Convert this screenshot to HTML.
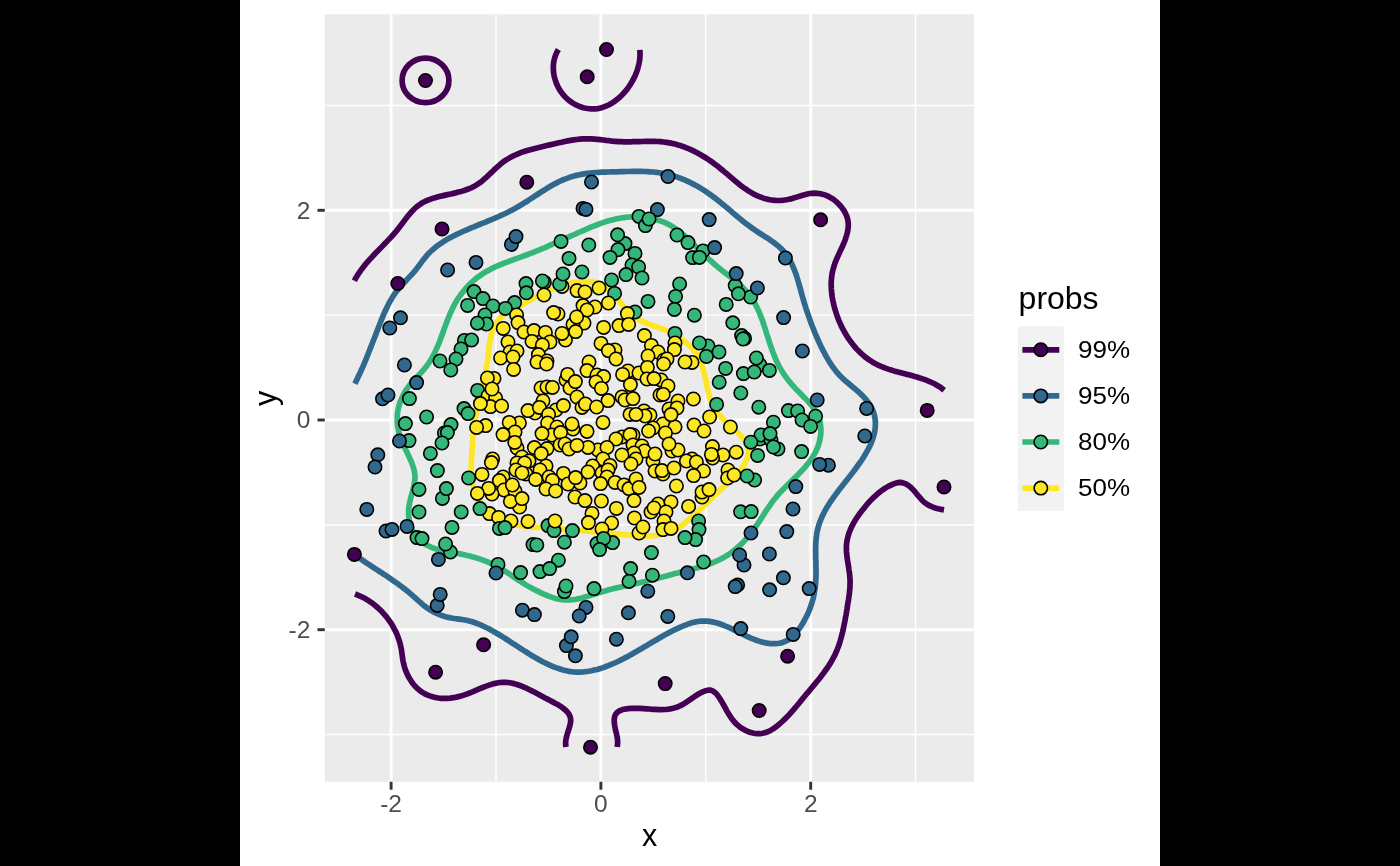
<!DOCTYPE html>
<html><head><meta charset="utf-8"><title>chart</title>
<style>
html,body{margin:0;padding:0;background:#000;}
body{width:1400px;height:866px;overflow:hidden;position:relative;}
svg{position:absolute;left:0;top:0;display:block;will-change:transform;}
text{font-family:"Liberation Sans",sans-serif;}
.at{font-size:24.5px;fill:#4D4D4D;}
.lt{font-size:24.5px;fill:#000;}
.ttl{font-size:30.5px;fill:#000;}
</style></head><body>
<svg width="1400" height="866" viewBox="0 0 1400 866">
<rect x="0" y="0" width="1400" height="866" fill="#000"/>
<rect x="240" y="0" width="920" height="866" fill="#fff"/>
<rect x="324.8" y="14.3" width="649.1" height="767.5" fill="#EBEBEB"/>
<line x1="496.0" x2="496.0" y1="14.3" y2="781.8" stroke="#fff" stroke-width="1.45"/>
<line x1="705.8" x2="705.8" y1="14.3" y2="781.8" stroke="#fff" stroke-width="1.45"/>
<line x1="915.5" x2="915.5" y1="14.3" y2="781.8" stroke="#fff" stroke-width="1.45"/>
<line y1="734.5" y2="734.5" x1="324.8" x2="973.9" stroke="#fff" stroke-width="1.45"/>
<line y1="524.9" y2="524.9" x1="324.8" x2="973.9" stroke="#fff" stroke-width="1.45"/>
<line y1="315.1" y2="315.1" x1="324.8" x2="973.9" stroke="#fff" stroke-width="1.45"/>
<line y1="105.5" y2="105.5" x1="324.8" x2="973.9" stroke="#fff" stroke-width="1.45"/>
<line x1="391.1" x2="391.1" y1="14.3" y2="781.8" stroke="#fff" stroke-width="2.9"/>
<line y1="629.7" y2="629.7" x1="324.8" x2="973.9" stroke="#fff" stroke-width="2.9"/>
<line x1="600.9" x2="600.9" y1="14.3" y2="781.8" stroke="#fff" stroke-width="2.9"/>
<line y1="420.0" y2="420.0" x1="324.8" x2="973.9" stroke="#fff" stroke-width="2.9"/>
<line x1="810.7" x2="810.7" y1="14.3" y2="781.8" stroke="#fff" stroke-width="2.9"/>
<line y1="210.3" y2="210.3" x1="324.8" x2="973.9" stroke="#fff" stroke-width="2.9"/>
<g fill="none" stroke-width="5.7" stroke-linejoin="round" stroke-linecap="butt">
<ellipse cx="425.5" cy="80.4" rx="23.4" ry="22.3" stroke="#440154"/>
<path d="M558.4 49.5 L556.9 52.2 L555.7 54.9 L554.7 57.8 L554.0 60.7 L553.5 63.7 L553.3 66.7 L553.4 69.8 L553.6 72.8 L554.1 75.9 L554.9 78.8 L555.8 81.8 L556.9 84.6 L558.3 87.4 L559.8 90.1 L561.5 92.6 L563.4 95.0 L565.4 97.2 L567.6 99.3 L570.0 101.2 L572.4 102.9 L575.0 104.4 L577.7 105.7 L580.4 106.8 L583.2 107.7 L586.1 108.3 L588.9 108.7 L591.8 108.9 L594.7 108.9 L597.6 108.6 L600.4 108.0 L603.2 107.2 L605.9 106.2 L608.6 105.0 L611.2 103.6 L613.8 101.9 L616.2 100.1 L618.6 98.2 L620.9 96.1 L623.1 93.8 L625.2 91.5 L627.2 89.1 L629.0 86.5 L630.7 83.9 L632.3 81.2 L633.8 78.5 L635.1 75.7 L636.3 72.9 L637.3 70.1 L638.1 67.2 L638.8 64.3 L639.4 61.5 L639.8 58.6 L640.0 55.7 L640.0 52.8 L639.9 49.9" stroke="#440154"/>
<path d="M354.4 280.7 L355.8 278.0 L357.4 275.4 L359.1 272.8 L360.8 270.4 L362.6 268.0 L364.4 265.6 L366.3 263.3 L368.2 261.1 L370.2 258.9 L372.3 256.7 L374.3 254.5 L376.4 252.3 L378.5 250.2 L380.6 248.1 L382.7 245.9 L384.7 243.8 L386.8 241.6 L388.9 239.4 L391.0 237.2 L393.0 235.0 L395.0 232.7 L396.9 230.4 L398.8 228.0 L400.7 225.6 L402.5 223.1 L404.3 220.7 L406.2 218.3 L408.0 215.9 L410.0 213.6 L411.9 211.4 L414.0 209.3 L416.1 207.3 L418.4 205.5 L420.8 203.8 L423.3 202.3 L425.9 201.0 L428.6 199.9 L431.5 198.8 L434.4 197.9 L437.3 197.1 L440.3 196.3 L443.3 195.6 L446.3 194.9 L449.4 194.2 L452.4 193.6 L455.4 192.9 L458.3 192.1 L461.2 191.4 L464.1 190.5 L466.9 189.5 L469.6 188.5 L472.3 187.3 L474.9 185.9 L477.4 184.4 L479.9 182.7 L482.2 180.9 L484.5 178.9 L486.8 176.9 L489.0 174.8 L491.3 172.6 L493.5 170.5 L495.7 168.3 L498.0 166.3 L500.3 164.3 L502.6 162.4 L505.0 160.7 L507.5 159.1 L510.1 157.6 L512.7 156.2 L515.3 155.0 L518.0 153.8 L520.8 152.7 L523.5 151.7 L526.4 150.8 L529.2 150.0 L532.1 149.2 L535.0 148.4 L537.9 147.7 L540.9 147.0 L543.9 146.3 L546.8 145.6 L549.8 144.9 L552.8 144.2 L555.8 143.5 L558.8 142.8 L561.7 142.2 L564.7 141.5 L567.7 140.9 L570.7 140.4 L573.6 139.9 L576.6 139.5 L579.6 139.2 L582.6 138.9 L585.5 138.8 L588.5 138.8 L591.4 138.9 L594.4 139.1 L597.3 139.3 L600.2 139.6 L603.2 140.0 L606.1 140.4 L609.1 140.7 L612.1 141.1 L615.1 141.3 L618.1 141.6 L621.1 141.7 L624.1 141.8 L627.2 141.8 L630.2 141.8 L633.3 141.7 L636.3 141.6 L639.4 141.6 L642.5 141.5 L645.5 141.4 L648.5 141.4 L651.6 141.4 L654.6 141.4 L657.6 141.5 L660.6 141.7 L663.5 142.0 L666.5 142.4 L669.4 142.9 L672.3 143.4 L675.2 144.1 L678.0 144.9 L680.8 145.8 L683.6 146.7 L686.3 147.8 L689.1 148.9 L691.8 150.1 L694.5 151.4 L697.1 152.8 L699.7 154.2 L702.3 155.7 L704.9 157.3 L707.4 158.9 L710.0 160.6 L712.5 162.4 L714.9 164.2 L717.4 166.1 L719.8 168.0 L722.2 170.0 L724.5 171.9 L726.9 173.9 L729.2 175.9 L731.6 177.9 L733.9 179.9 L736.3 181.9 L738.6 183.8 L741.0 185.7 L743.4 187.5 L745.9 189.2 L748.4 190.9 L750.9 192.4 L753.4 193.9 L756.0 195.2 L758.7 196.4 L761.4 197.4 L764.2 198.4 L767.0 199.1 L769.9 199.7 L772.8 200.1 L775.7 200.4 L778.7 200.5 L781.7 200.3 L784.7 200.0 L787.7 199.5 L790.7 198.9 L793.7 198.0 L796.6 197.1 L799.6 196.2 L802.6 195.3 L805.6 194.5 L808.5 193.8 L811.5 193.3 L814.5 193.2 L817.4 193.3 L820.4 193.7 L823.3 194.4 L826.1 195.4 L828.9 196.7 L831.6 198.2 L834.1 199.9 L836.5 201.9 L838.7 204.0 L840.8 206.2 L842.6 208.6 L844.3 211.1 L845.6 213.7 L846.8 216.4 L847.6 219.1 L848.1 221.9 L848.3 224.7 L848.2 227.5 L847.8 230.4 L847.2 233.2 L846.4 236.0 L845.5 238.9 L844.4 241.8 L843.2 244.6 L841.9 247.5 L840.5 250.4 L839.2 253.3 L837.9 256.2 L836.6 259.1 L835.4 262.0 L834.4 264.9 L833.5 267.9 L832.7 270.8 L832.1 273.7 L831.7 276.6 L831.4 279.5 L831.2 282.4 L831.2 285.3 L831.3 288.2 L831.5 291.1 L831.8 294.0 L832.2 296.9 L832.7 299.8 L833.4 302.8 L834.0 305.7 L834.8 308.6 L835.7 311.5 L836.6 314.4 L837.6 317.2 L838.7 320.1 L839.9 322.9 L841.2 325.7 L842.5 328.4 L844.0 331.1 L845.5 333.8 L847.1 336.4 L848.7 338.9 L850.5 341.4 L852.3 343.8 L854.2 346.1 L856.1 348.4 L858.2 350.6 L860.3 352.7 L862.5 354.7 L864.7 356.6 L867.1 358.4 L869.5 360.1 L872.0 361.7 L874.5 363.2 L877.1 364.6 L879.8 365.8 L882.6 367.0 L885.4 368.1 L888.2 369.1 L891.1 370.0 L894.0 370.9 L896.9 371.7 L899.9 372.5 L902.8 373.3 L905.8 374.1 L908.8 374.8 L911.7 375.6 L914.7 376.4 L917.6 377.3 L920.5 378.2 L923.4 379.1 L926.2 380.2 L929.0 381.3 L931.7 382.5 L934.4 383.8 L936.9 385.2 L939.5 386.7 L941.9 388.4 L944.2 390.2" stroke="#440154"/>
<path d="M944.0 509.9 L941.1 509.4 L938.1 508.8 L935.2 508.0 L932.3 506.9 L929.6 505.7 L927.0 504.2 L924.5 502.5 L922.3 500.5 L920.3 498.2 L918.3 495.9 L916.4 493.5 L914.4 491.2 L912.3 488.9 L910.1 486.8 L907.7 485.0 L905.1 483.6 L902.3 482.7 L899.5 482.4 L896.6 482.9 L893.8 483.9 L891.0 485.1 L888.3 486.4 L885.7 487.9 L883.2 489.5 L880.8 491.3 L878.4 493.1 L876.2 495.1 L874.0 497.1 L871.8 499.2 L869.7 501.4 L867.7 503.7 L865.7 506.0 L863.8 508.4 L861.9 510.8 L860.0 513.3 L858.2 515.7 L856.5 518.3 L854.9 520.8 L853.4 523.4 L852.0 526.1 L850.7 528.8 L849.6 531.5 L848.6 534.3 L847.8 537.1 L847.2 539.9 L846.7 542.8 L846.4 545.8 L846.4 548.7 L846.5 551.7 L846.8 554.8 L847.1 557.8 L847.6 560.9 L848.1 564.0 L848.6 567.1 L849.0 570.1 L849.5 573.2 L849.8 576.2 L850.0 579.2 L850.1 582.2 L850.0 585.1 L849.9 588.1 L849.6 591.0 L849.3 593.9 L848.9 596.8 L848.5 599.7 L848.0 602.6 L847.5 605.5 L847.1 608.5 L846.6 611.5 L846.1 614.5 L845.5 617.5 L845.0 620.5 L844.4 623.5 L843.8 626.5 L843.2 629.5 L842.5 632.5 L841.7 635.5 L840.9 638.4 L840.1 641.3 L839.2 644.2 L838.2 647.0 L837.1 649.8 L835.9 652.6 L834.7 655.3 L833.3 657.9 L831.9 660.5 L830.4 663.1 L828.8 665.6 L827.1 668.1 L825.4 670.5 L823.7 672.9 L821.9 675.3 L820.1 677.7 L818.2 680.0 L816.3 682.3 L814.4 684.6 L812.4 687.0 L810.5 689.3 L808.6 691.6 L806.6 693.9 L804.7 696.2 L802.8 698.6 L800.9 700.9 L799.0 703.2 L797.1 705.5 L795.1 707.8 L793.2 710.1 L791.2 712.4 L789.2 714.6 L787.1 716.8 L785.0 718.9 L782.8 721.0 L780.6 723.0 L778.3 725.0 L775.9 726.9 L773.5 728.6 L771.0 730.2 L768.3 731.5 L765.6 732.6 L762.8 733.3 L759.9 733.7 L756.9 733.6 L753.9 733.2 L750.8 732.5 L747.8 731.5 L744.9 730.1 L742.2 728.6 L739.6 726.8 L737.3 724.9 L735.2 722.9 L733.3 720.7 L731.5 718.3 L729.9 715.9 L728.3 713.4 L726.8 710.8 L725.4 708.2 L723.9 705.5 L722.4 702.8 L720.8 700.1 L719.1 697.5 L717.3 694.9 L715.3 692.7 L713.1 691.1 L710.7 690.2 L708.1 690.2 L705.3 690.8 L702.6 691.9 L699.9 693.2 L697.2 694.8 L694.6 696.5 L692.0 698.3 L689.3 700.2 L686.7 702.0 L684.0 703.7 L681.4 705.2 L678.6 706.5 L675.9 707.6 L673.1 708.3 L670.3 708.9 L667.4 709.3 L664.5 709.5 L661.6 709.6 L658.6 709.6 L655.7 709.4 L652.7 709.3 L649.6 709.0 L646.6 708.8 L643.5 708.6 L640.4 708.4 L637.3 708.3 L634.2 708.3 L631.1 708.4 L628.0 708.7 L624.9 709.1 L622.0 709.8 L619.4 710.9 L617.2 712.4 L615.6 714.3 L614.6 716.8 L614.2 719.7 L614.3 722.9 L614.8 726.2 L615.4 729.4 L616.1 732.4 L616.8 735.3 L617.3 738.0 L617.6 740.9 L617.6 743.8 L617.2 747.0" stroke="#440154"/>
<path d="M566.0 747.0 L565.6 744.0 L565.7 741.1 L566.2 738.1 L567.0 735.0 L567.9 732.0 L568.9 729.0 L569.8 725.9 L570.5 722.9 L570.7 720.0 L570.3 717.2 L569.3 714.7 L567.6 712.3 L565.6 710.2 L563.2 708.2 L560.7 706.4 L558.2 704.8 L555.6 703.4 L553.1 702.1 L550.5 700.7 L547.9 699.4 L545.2 698.0 L542.5 696.5 L539.7 695.0 L537.0 693.5 L534.2 692.0 L531.3 690.6 L528.5 689.2 L525.6 687.8 L522.8 686.6 L519.9 685.5 L517.0 684.5 L514.1 683.6 L511.2 683.0 L508.3 682.5 L505.4 682.3 L502.6 682.3 L499.7 682.5 L496.9 683.0 L494.0 683.6 L491.2 684.4 L488.4 685.4 L485.5 686.4 L482.7 687.5 L479.8 688.7 L477.0 689.9 L474.1 691.2 L471.2 692.4 L468.3 693.5 L465.3 694.6 L462.4 695.6 L459.4 696.4 L456.4 697.1 L453.4 697.7 L450.3 698.1 L447.3 698.3 L444.3 698.4 L441.3 698.3 L438.3 698.0 L435.4 697.5 L432.6 696.8 L429.8 695.9 L427.1 694.9 L424.5 693.6 L422.0 692.1 L419.6 690.4 L417.3 688.4 L415.2 686.3 L413.2 684.0 L411.4 681.5 L409.7 678.8 L408.1 676.0 L406.8 673.2 L405.6 670.3 L404.6 667.3 L403.8 664.3 L403.1 661.3 L402.6 658.3 L402.2 655.4 L401.8 652.4 L401.4 649.5 L400.8 646.6 L400.1 643.7 L399.3 640.8 L398.3 638.0 L397.3 635.2 L396.1 632.4 L394.7 629.7 L393.3 627.0 L391.8 624.4 L390.1 621.8 L388.3 619.3 L386.5 616.9 L384.5 614.6 L382.5 612.3 L380.3 610.1 L378.1 608.0 L375.8 606.0 L373.5 604.1 L371.0 602.3 L368.5 600.6 L365.9 599.0 L363.3 597.6 L360.6 596.3 L357.8 595.1 L355.0 594.0" stroke="#440154"/>
<path d="M354.9 383.7 L356.2 381.0 L357.5 378.3 L358.8 375.6 L360.1 372.9 L361.3 370.1 L362.6 367.4 L363.8 364.6 L364.9 361.9 L366.1 359.1 L367.2 356.3 L368.3 353.5 L369.4 350.7 L370.5 347.9 L371.6 345.1 L372.7 342.3 L373.8 339.5 L374.9 336.7 L376.0 333.9 L377.0 331.1 L378.1 328.3 L379.2 325.5 L380.3 322.7 L381.4 319.9 L382.6 317.1 L383.7 314.3 L384.9 311.6 L386.2 308.9 L387.5 306.2 L388.8 303.5 L390.3 300.9 L391.8 298.4 L393.3 295.9 L395.0 293.4 L396.8 291.0 L398.6 288.7 L400.6 286.4 L402.6 284.2 L404.7 282.0 L406.7 279.8 L408.8 277.6 L410.9 275.4 L413.0 273.1 L415.0 270.8 L416.9 268.4 L418.7 266.0 L420.5 263.6 L422.3 261.1 L424.2 258.7 L426.0 256.4 L428.0 254.1 L430.1 252.0 L432.3 250.0 L434.5 248.1 L436.8 246.2 L439.2 244.5 L441.7 242.8 L444.2 241.2 L446.7 239.6 L449.3 238.1 L452.0 236.7 L454.7 235.4 L457.4 234.0 L460.1 232.8 L462.8 231.5 L465.6 230.3 L468.4 229.1 L471.1 227.9 L473.9 226.8 L476.7 225.6 L479.4 224.5 L482.2 223.4 L485.0 222.3 L487.7 221.1 L490.5 220.0 L493.3 218.8 L496.0 217.7 L498.7 216.5 L501.5 215.2 L504.2 214.0 L506.9 212.7 L509.6 211.3 L512.2 210.0 L514.9 208.5 L517.5 207.0 L520.1 205.5 L522.7 203.9 L525.3 202.3 L527.9 200.7 L530.4 199.0 L533.0 197.3 L535.5 195.7 L538.1 194.0 L540.6 192.3 L543.2 190.7 L545.8 189.1 L548.3 187.5 L550.9 186.0 L553.5 184.5 L556.2 183.1 L558.8 181.8 L561.5 180.5 L564.2 179.4 L567.0 178.3 L569.7 177.3 L572.6 176.4 L575.4 175.6 L578.3 175.0 L581.2 174.4 L584.1 173.9 L587.1 173.4 L590.1 173.1 L593.1 172.8 L596.1 172.5 L599.1 172.3 L602.1 172.2 L605.2 172.1 L608.2 172.0 L611.3 171.9 L614.3 171.8 L617.4 171.8 L620.4 171.7 L623.5 171.6 L626.5 171.5 L629.5 171.5 L632.5 171.4 L635.5 171.4 L638.5 171.4 L641.5 171.4 L644.5 171.5 L647.4 171.6 L650.4 171.8 L653.3 172.0 L656.3 172.3 L659.2 172.7 L662.1 173.2 L665.0 173.7 L667.9 174.4 L670.8 175.1 L673.7 176.0 L676.6 176.9 L679.4 177.9 L682.3 179.0 L685.1 180.2 L687.8 181.4 L690.6 182.7 L693.3 184.1 L696.0 185.5 L698.7 187.0 L701.3 188.6 L703.8 190.2 L706.4 191.9 L708.9 193.6 L711.3 195.3 L713.7 197.1 L716.1 198.9 L718.4 200.7 L720.7 202.6 L723.0 204.5 L725.3 206.4 L727.6 208.3 L729.8 210.2 L732.1 212.2 L734.4 214.1 L736.6 216.0 L738.9 217.9 L741.2 219.8 L743.6 221.7 L745.9 223.5 L748.3 225.3 L750.8 227.1 L753.2 228.9 L755.8 230.6 L758.3 232.3 L760.9 234.0 L763.5 235.6 L766.1 237.3 L768.7 238.9 L771.2 240.7 L773.6 242.4 L776.0 244.2 L778.3 246.1 L780.5 248.1 L782.6 250.1 L784.5 252.3 L786.3 254.6 L787.9 257.0 L789.4 259.4 L790.8 262.0 L792.1 264.6 L793.3 267.4 L794.4 270.1 L795.5 273.0 L796.5 275.8 L797.4 278.8 L798.3 281.7 L799.1 284.7 L800.0 287.6 L800.8 290.6 L801.6 293.6 L802.4 296.5 L803.3 299.4 L804.1 302.4 L805.0 305.2 L805.9 308.1 L806.9 311.0 L807.8 313.8 L808.8 316.6 L809.8 319.4 L810.8 322.2 L811.8 325.0 L812.9 327.8 L814.0 330.5 L815.1 333.3 L816.3 336.0 L817.5 338.8 L818.7 341.5 L820.0 344.2 L821.3 346.9 L822.6 349.6 L824.0 352.3 L825.4 355.0 L826.9 357.6 L828.4 360.2 L830.0 362.8 L831.6 365.3 L833.4 367.7 L835.2 370.1 L837.0 372.4 L839.0 374.7 L841.0 376.8 L843.2 378.9 L845.4 380.9 L847.7 382.8 L850.0 384.7 L852.4 386.7 L854.7 388.6 L857.0 390.6 L859.3 392.7 L861.6 394.8 L863.7 397.0 L865.8 399.3 L867.7 401.7 L869.4 404.2 L871.0 406.7 L872.3 409.3 L873.4 412.1 L874.3 414.9 L874.9 417.8 L875.3 420.7 L875.4 423.7 L875.3 426.6 L875.0 429.6 L874.5 432.4 L873.8 435.3 L873.0 438.1 L872.0 440.9 L870.9 443.7 L869.6 446.4 L868.3 449.1 L866.8 451.7 L865.3 454.3 L863.7 456.9 L862.1 459.5 L860.4 462.0 L858.6 464.5 L856.8 467.0 L855.0 469.5 L853.2 471.9 L851.3 474.4 L849.4 476.8 L847.5 479.2 L845.6 481.6 L843.7 484.0 L841.8 486.4 L839.9 488.8 L838.0 491.3 L836.2 493.7 L834.4 496.1 L832.7 498.6 L831.0 501.0 L829.3 503.5 L827.8 506.0 L826.2 508.6 L824.8 511.1 L823.5 513.7 L822.2 516.3 L821.1 519.0 L820.0 521.7 L819.0 524.4 L818.2 527.2 L817.5 530.0 L816.9 532.9 L816.5 535.8 L816.1 538.7 L815.9 541.7 L815.7 544.7 L815.7 547.8 L815.6 550.9 L815.7 554.0 L815.7 557.1 L815.8 560.2 L815.9 563.3 L815.9 566.4 L816.0 569.5 L816.0 572.5 L816.0 575.6 L815.9 578.6 L815.7 581.6 L815.5 584.6 L815.2 587.5 L814.7 590.4 L814.2 593.3 L813.7 596.2 L813.0 599.0 L812.2 601.8 L811.3 604.6 L810.4 607.4 L809.3 610.1 L808.2 612.9 L806.9 615.6 L805.5 618.3 L804.1 621.0 L802.5 623.7 L800.9 626.3 L799.1 628.9 L797.2 631.4 L795.2 633.8 L793.1 636.0 L790.8 637.9 L788.4 639.7 L785.9 641.1 L783.3 642.2 L780.6 643.0 L777.7 643.5 L774.8 643.7 L771.8 643.7 L768.8 643.4 L765.8 642.9 L762.8 642.2 L759.9 641.4 L757.0 640.5 L754.2 639.4 L751.4 638.3 L748.7 637.1 L745.9 635.8 L743.2 634.5 L740.5 633.1 L737.7 631.7 L734.9 630.4 L732.1 629.0 L729.3 627.7 L726.5 626.5 L723.7 625.3 L720.8 624.3 L718.0 623.3 L715.1 622.5 L712.2 621.9 L709.3 621.4 L706.4 621.1 L703.5 621.0 L700.6 621.2 L697.7 621.5 L694.8 622.1 L691.9 622.8 L689.0 623.7 L686.1 624.8 L683.3 625.9 L680.4 627.1 L677.7 628.4 L674.9 629.7 L672.2 631.0 L669.5 632.4 L666.9 633.8 L664.2 635.3 L661.6 636.7 L659.0 638.2 L656.5 639.7 L653.9 641.2 L651.3 642.7 L648.8 644.2 L646.3 645.8 L643.7 647.3 L641.2 648.8 L638.6 650.3 L636.0 651.8 L633.4 653.3 L630.8 654.8 L628.2 656.2 L625.5 657.6 L622.8 659.0 L620.1 660.4 L617.4 661.7 L614.6 663.0 L611.8 664.2 L608.9 665.4 L606.0 666.5 L603.2 667.6 L600.3 668.5 L597.3 669.4 L594.4 670.1 L591.5 670.8 L588.5 671.3 L585.6 671.7 L582.6 672.0 L579.7 672.1 L576.7 672.1 L573.8 671.9 L570.9 671.6 L568.0 671.1 L565.1 670.4 L562.2 669.7 L559.4 668.8 L556.6 667.9 L553.7 666.8 L550.9 665.6 L548.2 664.4 L545.4 663.0 L542.7 661.7 L540.0 660.2 L537.4 658.7 L534.7 657.2 L532.1 655.7 L529.5 654.1 L527.0 652.5 L524.4 650.9 L521.9 649.3 L519.4 647.7 L516.9 646.0 L514.3 644.4 L511.8 642.8 L509.3 641.1 L506.8 639.5 L504.3 637.9 L501.8 636.3 L499.2 634.8 L496.6 633.2 L494.0 631.7 L491.4 630.3 L488.8 628.8 L486.1 627.5 L483.4 626.2 L480.6 624.9 L477.9 623.8 L475.0 622.8 L472.2 621.8 L469.3 621.0 L466.4 620.3 L463.4 619.8 L460.4 619.3 L457.4 618.9 L454.4 618.5 L451.4 618.0 L448.4 617.4 L445.6 616.7 L442.7 615.8 L440.0 614.8 L437.3 613.7 L434.6 612.4 L432.0 611.0 L429.5 609.5 L427.0 607.8 L424.6 606.1 L422.3 604.2 L420.0 602.2 L417.7 600.2 L415.5 598.1 L413.2 596.1 L410.9 594.1 L408.6 592.1 L406.3 590.2 L403.9 588.4 L401.5 586.5 L399.1 584.8 L396.7 583.0 L394.2 581.3 L391.7 579.6 L389.3 577.9 L386.8 576.2 L384.3 574.6 L381.8 572.9 L379.2 571.3 L376.7 569.7 L374.2 568.0 L371.7 566.4 L369.2 564.7 L366.7 563.1 L364.2 561.4 L361.7 559.7 L359.2 558.0 L356.8 556.2 L354.4 554.4" stroke="#31688E"/>
<path d="M426.5 366.2 L428.3 363.8 L429.9 361.3 L431.5 358.8 L432.9 356.2 L434.3 353.6 L435.6 350.9 L436.8 348.1 L438.0 345.4 L439.2 342.6 L440.3 339.8 L441.3 336.9 L442.4 334.1 L443.4 331.2 L444.4 328.3 L445.5 325.5 L446.5 322.6 L447.6 319.8 L448.7 317.0 L449.9 314.2 L451.1 311.4 L452.4 308.7 L453.7 306.0 L455.1 303.4 L456.6 300.8 L458.2 298.3 L459.9 295.9 L461.6 293.5 L463.5 291.2 L465.4 288.9 L467.3 286.7 L469.4 284.6 L471.5 282.5 L473.7 280.5 L476.0 278.6 L478.3 276.8 L480.7 275.1 L483.2 273.4 L485.7 271.8 L488.3 270.4 L491.0 268.9 L493.7 267.6 L496.4 266.3 L499.2 265.1 L502.0 264.0 L504.8 262.9 L507.7 261.8 L510.5 260.7 L513.4 259.7 L516.3 258.6 L519.2 257.6 L522.0 256.6 L524.9 255.5 L527.7 254.5 L530.5 253.4 L533.3 252.3 L536.1 251.2 L538.9 250.1 L541.6 248.9 L544.4 247.8 L547.1 246.6 L549.8 245.4 L552.6 244.2 L555.3 243.0 L558.0 241.8 L560.7 240.6 L563.5 239.4 L566.2 238.2 L568.9 236.9 L571.6 235.7 L574.4 234.5 L577.1 233.2 L579.9 232.0 L582.6 230.8 L585.4 229.6 L588.2 228.4 L590.9 227.2 L593.7 226.1 L596.6 225.0 L599.4 223.9 L602.2 222.9 L605.1 221.9 L608.0 221.0 L610.8 220.2 L613.8 219.5 L616.7 218.8 L619.6 218.2 L622.6 217.7 L625.6 217.3 L628.5 217.0 L631.6 216.9 L634.6 216.8 L637.6 216.8 L640.6 216.9 L643.6 217.2 L646.6 217.6 L649.5 218.0 L652.5 218.6 L655.4 219.3 L658.2 220.2 L661.0 221.1 L663.8 222.2 L666.5 223.4 L669.2 224.7 L671.8 226.2 L674.3 227.8 L676.8 229.5 L679.2 231.3 L681.5 233.2 L683.8 235.1 L686.1 237.1 L688.4 239.2 L690.6 241.3 L692.8 243.4 L694.9 245.6 L697.1 247.7 L699.3 249.8 L701.4 251.9 L703.5 254.0 L705.7 256.1 L707.9 258.2 L710.0 260.2 L712.2 262.2 L714.4 264.2 L716.7 266.1 L719.0 268.0 L721.3 269.9 L723.6 271.8 L726.0 273.6 L728.4 275.5 L730.8 277.3 L733.2 279.2 L735.6 281.1 L737.8 283.0 L740.1 285.0 L742.2 287.1 L744.3 289.2 L746.3 291.4 L748.2 293.7 L750.1 296.0 L751.8 298.4 L753.4 300.9 L754.9 303.4 L756.3 306.1 L757.6 308.7 L758.9 311.5 L760.0 314.3 L761.1 317.1 L762.2 319.9 L763.2 322.8 L764.1 325.7 L765.1 328.6 L766.0 331.5 L766.9 334.4 L767.9 337.3 L768.8 340.2 L769.7 343.1 L770.7 346.0 L771.7 348.8 L772.7 351.7 L773.8 354.5 L774.9 357.2 L776.0 360.0 L777.3 362.7 L778.6 365.3 L780.0 367.9 L781.5 370.4 L783.0 372.9 L784.7 375.3 L786.4 377.7 L788.2 380.1 L790.1 382.4 L792.0 384.7 L794.0 386.9 L796.1 389.2 L798.2 391.3 L800.4 393.5 L802.5 395.7 L804.7 397.9 L806.8 400.1 L808.9 402.3 L810.9 404.6 L812.7 406.9 L814.4 409.3 L816.0 411.8 L817.4 414.4 L818.6 417.0 L819.5 419.8 L820.2 422.7 L820.6 425.7 L820.9 428.7 L820.9 431.8 L820.7 434.8 L820.2 437.9 L819.6 440.9 L818.8 443.8 L817.9 446.7 L816.7 449.4 L815.5 452.1 L814.0 454.7 L812.5 457.3 L810.8 459.8 L809.1 462.2 L807.2 464.5 L805.3 466.8 L803.3 469.1 L801.2 471.3 L799.1 473.5 L797.0 475.7 L794.8 477.8 L792.7 479.9 L790.5 482.0 L788.3 484.1 L786.2 486.2 L784.1 488.4 L782.0 490.5 L779.9 492.7 L777.9 494.9 L776.0 497.2 L774.1 499.5 L772.3 501.9 L770.6 504.3 L768.9 506.8 L767.2 509.2 L765.5 511.8 L763.9 514.3 L762.3 516.8 L760.6 519.3 L759.0 521.9 L757.3 524.4 L755.6 526.9 L753.9 529.3 L752.1 531.7 L750.3 534.1 L748.4 536.4 L746.4 538.7 L744.4 540.9 L742.3 543.1 L740.1 545.2 L737.9 547.2 L735.7 549.1 L733.3 551.0 L731.0 552.8 L728.5 554.5 L726.0 556.1 L723.5 557.6 L720.8 559.0 L718.2 560.3 L715.5 561.5 L712.7 562.7 L709.9 563.7 L707.1 564.7 L704.2 565.7 L701.3 566.6 L698.4 567.4 L695.4 568.3 L692.5 569.1 L689.6 569.8 L686.6 570.6 L683.7 571.3 L680.7 572.1 L677.8 572.9 L674.9 573.6 L672.0 574.4 L669.1 575.2 L666.2 576.0 L663.3 576.8 L660.4 577.5 L657.6 578.3 L654.7 579.0 L651.8 579.8 L648.9 580.5 L646.0 581.2 L643.1 581.9 L640.2 582.6 L637.3 583.2 L634.4 583.9 L631.5 584.5 L628.5 585.2 L625.6 585.8 L622.7 586.5 L619.8 587.2 L616.8 587.9 L613.9 588.6 L611.0 589.3 L608.1 590.1 L605.2 590.9 L602.2 591.7 L599.3 592.6 L596.4 593.5 L593.5 594.5 L590.7 595.4 L587.8 596.3 L584.9 597.1 L582.0 597.9 L579.1 598.6 L576.2 599.2 L573.3 599.6 L570.4 599.9 L567.5 600.0 L564.6 599.9 L561.7 599.6 L558.8 599.1 L555.8 598.5 L552.9 597.6 L550.1 596.6 L547.2 595.5 L544.3 594.3 L541.5 593.1 L538.8 591.7 L536.0 590.4 L533.3 589.0 L530.7 587.6 L528.1 586.1 L525.5 584.6 L522.9 583.0 L520.4 581.4 L517.9 579.8 L515.4 578.1 L512.9 576.4 L510.4 574.7 L507.9 573.0 L505.4 571.4 L502.8 569.8 L500.3 568.3 L497.7 566.8 L495.0 565.4 L492.4 564.1 L489.7 562.9 L487.0 561.7 L484.2 560.6 L481.4 559.6 L478.6 558.6 L475.8 557.7 L472.9 556.9 L470.0 556.1 L467.1 555.4 L464.2 554.7 L461.2 554.1 L458.3 553.5 L455.3 553.0 L452.2 552.5 L449.2 552.0 L446.2 551.4 L443.2 550.8 L440.3 550.1 L437.3 549.3 L434.4 548.4 L431.5 547.3 L428.7 546.0 L425.9 544.6 L423.3 542.9 L420.9 541.1 L418.8 539.2 L416.8 537.0 L415.1 534.7 L413.5 532.3 L412.2 529.7 L411.1 527.1 L410.2 524.3 L409.5 521.5 L409.0 518.6 L408.7 515.6 L408.6 512.6 L408.7 509.6 L409.0 506.5 L409.5 503.5 L410.1 500.5 L410.9 497.4 L411.7 494.4 L412.5 491.4 L413.3 488.5 L414.0 485.5 L414.5 482.6 L414.9 479.7 L415.0 476.8 L414.7 474.0 L414.3 471.1 L413.6 468.3 L412.7 465.5 L411.7 462.7 L410.5 460.0 L409.3 457.2 L408.0 454.4 L406.6 451.6 L405.2 448.8 L403.9 446.0 L402.6 443.2 L401.5 440.3 L400.4 437.5 L399.5 434.6 L398.7 431.7 L398.1 428.7 L397.6 425.8 L397.3 422.8 L397.2 419.9 L397.2 416.9 L397.4 414.0 L397.8 411.1 L398.4 408.2 L399.1 405.3 L400.0 402.4 L401.1 399.6 L402.3 396.9 L403.6 394.2 L405.1 391.6 L406.7 389.1 L408.5 386.6 L410.4 384.2 L412.4 381.9 L414.4 379.7 L416.5 377.5 L418.6 375.3 L420.6 373.1 L422.7 370.8 L424.6 368.5 L426.5 366.2Z" stroke="#35B779"/>
<path d="M487.7 360.1 L488.0 357.0 L488.4 354.0 L488.7 350.9 L489.0 347.8 L489.4 344.7 L489.8 341.7 L490.4 338.8 L491.0 335.8 L491.7 333.0 L492.7 330.2 L493.8 327.6 L495.1 325.0 L496.7 322.6 L498.4 320.2 L500.4 318.1 L502.6 316.0 L504.9 314.1 L507.3 312.4 L509.9 310.8 L512.5 309.3 L515.2 307.8 L518.0 306.4 L520.7 305.1 L523.4 303.7 L526.1 302.3 L528.8 300.8 L531.5 299.4 L534.2 298.0 L536.8 296.6 L539.5 295.3 L542.2 293.9 L544.8 292.6 L547.5 291.3 L550.2 290.1 L553.0 288.9 L555.7 287.8 L558.5 286.8 L561.3 285.8 L564.2 284.9 L567.0 284.1 L570.0 283.4 L572.9 282.8 L576.0 282.3 L579.0 281.9 L582.2 281.6 L585.3 281.5 L588.3 281.6 L591.4 281.9 L594.3 282.4 L597.2 283.1 L600.0 284.1 L602.5 285.4 L605.0 286.9 L607.4 288.7 L609.6 290.6 L611.8 292.7 L613.8 294.9 L615.9 297.1 L617.9 299.5 L619.9 301.8 L621.8 304.1 L623.8 306.4 L625.8 308.7 L627.9 310.8 L630.0 312.9 L632.2 314.8 L634.5 316.7 L636.9 318.3 L639.4 319.9 L642.0 321.2 L644.8 322.4 L647.6 323.6 L650.4 324.6 L653.3 325.7 L656.2 326.7 L659.1 327.7 L661.9 328.8 L664.7 329.9 L667.5 331.2 L670.2 332.5 L672.9 333.8 L675.5 335.3 L678.1 336.9 L680.6 338.5 L683.0 340.3 L685.5 342.1 L687.8 344.0 L690.0 346.0 L692.1 348.2 L694.0 350.4 L695.8 352.7 L697.5 355.2 L698.9 357.7 L700.2 360.4 L701.3 363.1 L702.2 366.0 L703.1 368.8 L703.9 371.8 L704.6 374.7 L705.2 377.7 L705.8 380.8 L706.4 383.8 L707.1 386.8 L707.7 389.8 L708.4 392.8 L709.2 395.7 L710.1 398.6 L711.0 401.4 L712.2 404.1 L713.4 406.7 L714.9 409.2 L716.5 411.6 L718.3 414.0 L720.3 416.2 L722.3 418.4 L724.5 420.5 L726.8 422.6 L729.1 424.7 L731.4 426.8 L733.8 428.9 L736.2 431.1 L738.4 433.3 L740.6 435.5 L742.6 437.8 L744.4 440.2 L746.0 442.6 L747.2 445.1 L748.0 447.7 L748.3 450.4 L748.3 453.1 L747.8 455.9 L747.0 458.7 L745.8 461.5 L744.4 464.2 L742.8 466.9 L741.0 469.4 L739.1 471.8 L737.0 474.2 L734.9 476.4 L732.7 478.6 L730.5 480.7 L728.2 482.7 L725.9 484.8 L723.6 486.8 L721.4 488.8 L719.2 490.8 L717.0 492.8 L714.9 494.9 L712.8 496.9 L710.7 499.0 L708.6 501.1 L706.5 503.1 L704.4 505.2 L702.3 507.3 L700.1 509.4 L697.9 511.4 L695.7 513.5 L693.4 515.6 L691.1 517.7 L688.8 519.8 L686.4 521.8 L684.0 523.8 L681.5 525.7 L679.0 527.4 L676.4 529.0 L673.8 530.3 L671.1 531.5 L668.4 532.5 L665.6 533.4 L662.8 534.1 L660.0 534.7 L657.1 535.2 L654.2 535.5 L651.2 535.8 L648.3 535.9 L645.3 536.0 L642.3 535.9 L639.3 535.8 L636.2 535.7 L633.2 535.5 L630.1 535.2 L627.1 535.0 L624.1 534.7 L621.0 534.4 L618.0 534.1 L614.9 533.7 L611.9 533.4 L608.9 533.1 L605.9 532.8 L602.9 532.5 L599.9 532.3 L596.9 532.0 L593.9 531.7 L590.9 531.4 L587.9 531.1 L584.9 530.9 L581.9 530.6 L579.0 530.3 L576.0 530.1 L573.0 529.8 L570.0 529.6 L567.1 529.3 L564.1 529.1 L561.1 528.9 L558.1 528.7 L555.2 528.5 L552.2 528.3 L549.2 528.1 L546.2 527.9 L543.2 527.7 L540.2 527.5 L537.2 527.4 L534.2 527.2 L531.2 526.9 L528.2 526.7 L525.2 526.3 L522.2 525.9 L519.2 525.5 L516.2 524.9 L513.3 524.3 L510.3 523.5 L507.4 522.6 L504.4 521.6 L501.6 520.5 L498.8 519.3 L496.1 517.9 L493.5 516.4 L491.0 514.7 L488.6 512.9 L486.4 511.0 L484.3 508.8 L482.4 506.6 L480.7 504.2 L479.1 501.6 L477.7 499.0 L476.4 496.3 L475.3 493.5 L474.3 490.6 L473.5 487.7 L472.8 484.8 L472.3 481.8 L471.9 478.8 L471.6 475.8 L471.4 472.8 L471.3 469.8 L471.3 466.8 L471.3 463.8 L471.4 460.8 L471.6 457.8 L471.7 454.8 L471.9 451.7 L472.1 448.7 L472.3 445.7 L472.5 442.7 L472.8 439.7 L473.0 436.7 L473.3 433.7 L473.7 430.7 L474.0 427.7 L474.4 424.7 L474.8 421.7 L475.3 418.8 L475.7 415.8 L476.2 412.9 L476.8 409.9 L477.4 407.0 L478.0 404.1 L478.6 401.2 L479.3 398.3 L480.0 395.4 L480.7 392.5 L481.4 389.6 L482.2 386.7 L482.9 383.8 L483.6 380.9 L484.3 378.0 L485.0 375.0 L485.6 372.1 L486.2 369.1 L486.7 366.1 L487.2 363.1 L487.7 360.1Z" stroke="#FDE725"/>
</g>
<g stroke="#000" stroke-width="1.6">
<circle cx="425.5" cy="80.5" r="6.7" fill="#440154"/>
<circle cx="606.5" cy="49.5" r="6.7" fill="#440154"/>
<circle cx="587.2" cy="76.8" r="6.7" fill="#440154"/>
<circle cx="526.8" cy="182.2" r="6.7" fill="#440154"/>
<circle cx="591.5" cy="182.0" r="6.7" fill="#31688E"/>
<circle cx="668.0" cy="176.5" r="6.7" fill="#31688E"/>
<circle cx="397.8" cy="283.5" r="6.7" fill="#440154"/>
<circle cx="389.8" cy="328.0" r="6.7" fill="#31688E"/>
<circle cx="400.5" cy="317.8" r="6.7" fill="#31688E"/>
<circle cx="382.5" cy="398.8" r="6.7" fill="#31688E"/>
<circle cx="388.0" cy="395.0" r="6.7" fill="#31688E"/>
<circle cx="377.8" cy="454.8" r="6.7" fill="#31688E"/>
<circle cx="375.0" cy="467.0" r="6.7" fill="#31688E"/>
<circle cx="366.8" cy="509.4" r="6.7" fill="#31688E"/>
<circle cx="386.0" cy="531.0" r="6.7" fill="#31688E"/>
<circle cx="392.0" cy="529.4" r="6.7" fill="#31688E"/>
<circle cx="354.4" cy="554.4" r="6.7" fill="#440154"/>
<circle cx="590.5" cy="747.2" r="6.7" fill="#440154"/>
<circle cx="759.2" cy="710.5" r="6.7" fill="#440154"/>
<circle cx="442.0" cy="229.0" r="6.7" fill="#440154"/>
<circle cx="583.0" cy="208.4" r="6.7" fill="#31688E"/>
<circle cx="586.0" cy="209.4" r="6.7" fill="#31688E"/>
<circle cx="657.4" cy="209.6" r="6.7" fill="#31688E"/>
<circle cx="511.4" cy="244.4" r="6.7" fill="#31688E"/>
<circle cx="516.0" cy="236.6" r="6.7" fill="#31688E"/>
<circle cx="476.0" cy="262.4" r="6.7" fill="#31688E"/>
<circle cx="447.6" cy="270.0" r="6.7" fill="#31688E"/>
<circle cx="639.0" cy="216.4" r="6.7" fill="#35B779"/>
<circle cx="645.4" cy="225.6" r="6.7" fill="#35B779"/>
<circle cx="649.0" cy="219.0" r="6.7" fill="#35B779"/>
<circle cx="561.0" cy="241.4" r="6.7" fill="#35B779"/>
<circle cx="588.8" cy="245.0" r="6.7" fill="#35B779"/>
<circle cx="625.0" cy="243.6" r="6.7" fill="#35B779"/>
<circle cx="617.6" cy="234.8" r="6.7" fill="#35B779"/>
<circle cx="618.0" cy="249.6" r="6.7" fill="#35B779"/>
<circle cx="610.0" cy="257.4" r="6.7" fill="#35B779"/>
<circle cx="635.0" cy="253.4" r="6.7" fill="#35B779"/>
<circle cx="632.0" cy="265.0" r="6.7" fill="#35B779"/>
<circle cx="638.6" cy="267.0" r="6.7" fill="#35B779"/>
<circle cx="626.0" cy="274.6" r="6.7" fill="#35B779"/>
<circle cx="642.0" cy="278.0" r="6.7" fill="#35B779"/>
<circle cx="569.0" cy="258.4" r="6.7" fill="#35B779"/>
<circle cx="582.0" cy="272.0" r="6.7" fill="#35B779"/>
<circle cx="562.0" cy="286.4" r="6.7" fill="#FDE725"/>
<circle cx="559.6" cy="284.0" r="6.7" fill="#35B779"/>
<circle cx="563.0" cy="274.0" r="6.7" fill="#35B779"/>
<circle cx="611.6" cy="280.0" r="6.7" fill="#35B779"/>
<circle cx="614.6" cy="293.4" r="6.7" fill="#35B779"/>
<circle cx="648.0" cy="301.4" r="6.7" fill="#35B779"/>
<circle cx="635.0" cy="312.0" r="6.7" fill="#35B779"/>
<circle cx="526.0" cy="283.6" r="6.7" fill="#35B779"/>
<circle cx="526.4" cy="292.8" r="6.7" fill="#35B779"/>
<circle cx="544.4" cy="282.4" r="6.7" fill="#35B779"/>
<circle cx="542.4" cy="281.0" r="6.7" fill="#35B779"/>
<circle cx="474.0" cy="291.6" r="6.7" fill="#35B779"/>
<circle cx="483.0" cy="298.6" r="6.7" fill="#35B779"/>
<circle cx="467.6" cy="305.4" r="6.7" fill="#35B779"/>
<circle cx="493.0" cy="306.0" r="6.7" fill="#35B779"/>
<circle cx="514.6" cy="302.6" r="6.7" fill="#35B779"/>
<circle cx="505.4" cy="308.4" r="6.7" fill="#35B779"/>
<circle cx="485.0" cy="315.0" r="6.7" fill="#35B779"/>
<circle cx="486.4" cy="324.0" r="6.7" fill="#35B779"/>
<circle cx="477.4" cy="323.2" r="6.7" fill="#35B779"/>
<circle cx="464.4" cy="340.4" r="6.7" fill="#35B779"/>
<circle cx="471.6" cy="340.0" r="6.7" fill="#35B779"/>
<circle cx="461.0" cy="349.0" r="6.7" fill="#35B779"/>
<circle cx="456.0" cy="359.0" r="6.7" fill="#35B779"/>
<circle cx="440.0" cy="361.0" r="6.7" fill="#35B779"/>
<circle cx="544.0" cy="295.0" r="6.7" fill="#FDE725"/>
<circle cx="577.0" cy="290.6" r="6.7" fill="#FDE725"/>
<circle cx="585.0" cy="292.0" r="6.7" fill="#FDE725"/>
<circle cx="599.0" cy="288.0" r="6.7" fill="#FDE725"/>
<circle cx="608.4" cy="303.0" r="6.7" fill="#FDE725"/>
<circle cx="595.0" cy="307.0" r="6.7" fill="#FDE725"/>
<circle cx="583.0" cy="305.6" r="6.7" fill="#FDE725"/>
<circle cx="587.0" cy="310.0" r="6.7" fill="#FDE725"/>
<circle cx="558.0" cy="314.0" r="6.7" fill="#FDE725"/>
<circle cx="553.6" cy="312.6" r="6.7" fill="#FDE725"/>
<circle cx="584.0" cy="323.0" r="6.7" fill="#FDE725"/>
<circle cx="573.0" cy="324.4" r="6.7" fill="#FDE725"/>
<circle cx="576.6" cy="317.0" r="6.7" fill="#FDE725"/>
<circle cx="575.6" cy="331.6" r="6.7" fill="#FDE725"/>
<circle cx="627.4" cy="313.6" r="6.7" fill="#FDE725"/>
<circle cx="619.0" cy="325.6" r="6.7" fill="#FDE725"/>
<circle cx="628.6" cy="324.4" r="6.7" fill="#FDE725"/>
<circle cx="603.6" cy="327.4" r="6.7" fill="#FDE725"/>
<circle cx="516.6" cy="315.0" r="6.7" fill="#FDE725"/>
<circle cx="518.0" cy="322.6" r="6.7" fill="#FDE725"/>
<circle cx="503.2" cy="328.4" r="6.7" fill="#FDE725"/>
<circle cx="524.0" cy="332.0" r="6.7" fill="#FDE725"/>
<circle cx="534.0" cy="330.6" r="6.7" fill="#FDE725"/>
<circle cx="545.4" cy="332.4" r="6.7" fill="#FDE725"/>
<circle cx="565.4" cy="340.0" r="6.7" fill="#FDE725"/>
<circle cx="562.0" cy="333.4" r="6.7" fill="#FDE725"/>
<circle cx="508.0" cy="342.0" r="6.7" fill="#FDE725"/>
<circle cx="532.0" cy="341.4" r="6.7" fill="#FDE725"/>
<circle cx="550.0" cy="342.0" r="6.7" fill="#FDE725"/>
<circle cx="542.4" cy="345.0" r="6.7" fill="#FDE725"/>
<circle cx="510.0" cy="352.0" r="6.7" fill="#FDE725"/>
<circle cx="517.0" cy="351.0" r="6.7" fill="#FDE725"/>
<circle cx="500.6" cy="358.0" r="6.7" fill="#FDE725"/>
<circle cx="513.0" cy="357.0" r="6.7" fill="#FDE725"/>
<circle cx="538.4" cy="354.6" r="6.7" fill="#FDE725"/>
<circle cx="547.0" cy="361.0" r="6.7" fill="#FDE725"/>
<circle cx="644.4" cy="335.6" r="6.7" fill="#FDE725"/>
<circle cx="651.4" cy="345.4" r="6.7" fill="#FDE725"/>
<circle cx="658.0" cy="352.0" r="6.7" fill="#FDE725"/>
<circle cx="648.0" cy="356.0" r="6.7" fill="#FDE725"/>
<circle cx="664.0" cy="360.0" r="6.7" fill="#FDE725"/>
<circle cx="601.0" cy="343.4" r="6.7" fill="#FDE725"/>
<circle cx="615.0" cy="350.0" r="6.7" fill="#FDE725"/>
<circle cx="608.4" cy="350.6" r="6.7" fill="#FDE725"/>
<circle cx="616.0" cy="359.0" r="6.7" fill="#FDE725"/>
<circle cx="589.0" cy="362.0" r="6.7" fill="#FDE725"/>
<circle cx="820.6" cy="219.8" r="6.7" fill="#440154"/>
<circle cx="709.2" cy="219.6" r="6.7" fill="#31688E"/>
<circle cx="703.0" cy="251.0" r="6.7" fill="#35B779"/>
<circle cx="714.6" cy="247.6" r="6.7" fill="#31688E"/>
<circle cx="692.6" cy="257.6" r="6.7" fill="#35B779"/>
<circle cx="699.4" cy="257.4" r="6.7" fill="#35B779"/>
<circle cx="785.4" cy="258.0" r="6.7" fill="#31688E"/>
<circle cx="735.2" cy="285.6" r="6.7" fill="#35B779"/>
<circle cx="736.2" cy="273.6" r="6.7" fill="#31688E"/>
<circle cx="750.6" cy="297.0" r="6.7" fill="#35B779"/>
<circle cx="757.4" cy="288.0" r="6.7" fill="#31688E"/>
<circle cx="738.4" cy="293.8" r="6.7" fill="#35B779"/>
<circle cx="783.6" cy="317.6" r="6.7" fill="#31688E"/>
<circle cx="802.4" cy="351.0" r="6.7" fill="#31688E"/>
<circle cx="677.0" cy="235.0" r="6.7" fill="#35B779"/>
<circle cx="688.0" cy="242.6" r="6.7" fill="#35B779"/>
<circle cx="679.6" cy="284.0" r="6.7" fill="#35B779"/>
<circle cx="675.6" cy="296.4" r="6.7" fill="#35B779"/>
<circle cx="674.4" cy="309.4" r="6.7" fill="#35B779"/>
<circle cx="694.4" cy="315.2" r="6.7" fill="#35B779"/>
<circle cx="726.2" cy="304.4" r="6.7" fill="#35B779"/>
<circle cx="732.8" cy="322.8" r="6.7" fill="#35B779"/>
<circle cx="741.6" cy="335.6" r="6.7" fill="#35B779"/>
<circle cx="744.6" cy="338.4" r="6.7" fill="#35B779"/>
<circle cx="743.0" cy="339.0" r="6.7" fill="#35B779"/>
<circle cx="675.0" cy="333.4" r="6.7" fill="#35B779"/>
<circle cx="708.0" cy="346.0" r="6.7" fill="#35B779"/>
<circle cx="699.4" cy="343.0" r="6.7" fill="#35B779"/>
<circle cx="719.0" cy="352.0" r="6.7" fill="#35B779"/>
<circle cx="706.4" cy="356.4" r="6.7" fill="#35B779"/>
<circle cx="675.0" cy="343.0" r="6.7" fill="#FDE725"/>
<circle cx="674.4" cy="349.6" r="6.7" fill="#FDE725"/>
<circle cx="692.0" cy="362.4" r="6.7" fill="#FDE725"/>
<circle cx="404.4" cy="365.0" r="6.7" fill="#31688E"/>
<circle cx="416.6" cy="382.6" r="6.7" fill="#31688E"/>
<circle cx="409.0" cy="440.6" r="6.7" fill="#35B779"/>
<circle cx="450.8" cy="370.0" r="6.7" fill="#35B779"/>
<circle cx="409.4" cy="398.6" r="6.7" fill="#35B779"/>
<circle cx="426.6" cy="417.0" r="6.7" fill="#35B779"/>
<circle cx="405.4" cy="423.6" r="6.7" fill="#35B779"/>
<circle cx="451.0" cy="424.6" r="6.7" fill="#35B779"/>
<circle cx="444.4" cy="433.0" r="6.7" fill="#35B779"/>
<circle cx="447.4" cy="432.6" r="6.7" fill="#35B779"/>
<circle cx="442.0" cy="443.0" r="6.7" fill="#35B779"/>
<circle cx="430.4" cy="453.4" r="6.7" fill="#35B779"/>
<circle cx="437.4" cy="470.6" r="6.7" fill="#35B779"/>
<circle cx="464.0" cy="408.6" r="6.7" fill="#35B779"/>
<circle cx="468.0" cy="413.6" r="6.7" fill="#35B779"/>
<circle cx="477.6" cy="390.4" r="6.7" fill="#35B779"/>
<circle cx="468.6" cy="478.0" r="6.7" fill="#35B779"/>
<circle cx="419.0" cy="489.4" r="6.7" fill="#35B779"/>
<circle cx="442.4" cy="498.4" r="6.7" fill="#35B779"/>
<circle cx="446.4" cy="488.6" r="6.7" fill="#35B779"/>
<circle cx="419.0" cy="512.0" r="6.7" fill="#35B779"/>
<circle cx="461.2" cy="512.0" r="6.7" fill="#35B779"/>
<circle cx="513.6" cy="369.4" r="6.7" fill="#FDE725"/>
<circle cx="537.0" cy="362.0" r="6.7" fill="#FDE725"/>
<circle cx="546.6" cy="364.0" r="6.7" fill="#FDE725"/>
<circle cx="587.0" cy="370.6" r="6.7" fill="#FDE725"/>
<circle cx="566.0" cy="380.0" r="6.7" fill="#FDE725"/>
<circle cx="567.6" cy="374.4" r="6.7" fill="#FDE725"/>
<circle cx="570.0" cy="388.0" r="6.7" fill="#FDE725"/>
<circle cx="575.4" cy="381.6" r="6.7" fill="#FDE725"/>
<circle cx="597.0" cy="375.0" r="6.7" fill="#FDE725"/>
<circle cx="603.6" cy="376.6" r="6.7" fill="#FDE725"/>
<circle cx="596.0" cy="382.0" r="6.7" fill="#FDE725"/>
<circle cx="601.4" cy="388.4" r="6.7" fill="#FDE725"/>
<circle cx="667.0" cy="359.0" r="6.7" fill="#FDE725"/>
<circle cx="663.6" cy="364.0" r="6.7" fill="#FDE725"/>
<circle cx="628.0" cy="371.0" r="6.7" fill="#FDE725"/>
<circle cx="622.6" cy="374.4" r="6.7" fill="#FDE725"/>
<circle cx="639.0" cy="373.0" r="6.7" fill="#FDE725"/>
<circle cx="647.4" cy="367.4" r="6.7" fill="#FDE725"/>
<circle cx="647.0" cy="379.0" r="6.7" fill="#FDE725"/>
<circle cx="661.0" cy="380.0" r="6.7" fill="#FDE725"/>
<circle cx="654.0" cy="378.6" r="6.7" fill="#FDE725"/>
<circle cx="630.4" cy="384.6" r="6.7" fill="#FDE725"/>
<circle cx="668.0" cy="386.0" r="6.7" fill="#FDE725"/>
<circle cx="660.0" cy="395.0" r="6.7" fill="#FDE725"/>
<circle cx="663.2" cy="394.4" r="6.7" fill="#FDE725"/>
<circle cx="622.0" cy="397.0" r="6.7" fill="#FDE725"/>
<circle cx="625.0" cy="400.0" r="6.7" fill="#FDE725"/>
<circle cx="633.0" cy="398.6" r="6.7" fill="#FDE725"/>
<circle cx="608.0" cy="400.6" r="6.7" fill="#FDE725"/>
<circle cx="494.0" cy="378.4" r="6.7" fill="#FDE725"/>
<circle cx="487.4" cy="378.0" r="6.7" fill="#FDE725"/>
<circle cx="488.0" cy="396.0" r="6.7" fill="#FDE725"/>
<circle cx="495.6" cy="398.0" r="6.7" fill="#FDE725"/>
<circle cx="492.0" cy="389.0" r="6.7" fill="#FDE725"/>
<circle cx="490.4" cy="406.6" r="6.7" fill="#FDE725"/>
<circle cx="501.6" cy="406.0" r="6.7" fill="#FDE725"/>
<circle cx="541.0" cy="388.0" r="6.7" fill="#FDE725"/>
<circle cx="547.0" cy="387.0" r="6.7" fill="#FDE725"/>
<circle cx="552.4" cy="387.4" r="6.7" fill="#FDE725"/>
<circle cx="577.0" cy="397.0" r="6.7" fill="#FDE725"/>
<circle cx="582.0" cy="407.4" r="6.7" fill="#FDE725"/>
<circle cx="585.4" cy="404.0" r="6.7" fill="#FDE725"/>
<circle cx="596.6" cy="407.0" r="6.7" fill="#FDE725"/>
<circle cx="543.0" cy="401.0" r="6.7" fill="#FDE725"/>
<circle cx="535.0" cy="413.0" r="6.7" fill="#FDE725"/>
<circle cx="528.0" cy="410.6" r="6.7" fill="#FDE725"/>
<circle cx="539.4" cy="407.4" r="6.7" fill="#FDE725"/>
<circle cx="556.0" cy="410.0" r="6.7" fill="#FDE725"/>
<circle cx="563.4" cy="405.6" r="6.7" fill="#FDE725"/>
<circle cx="548.6" cy="414.4" r="6.7" fill="#FDE725"/>
<circle cx="630.0" cy="414.4" r="6.7" fill="#FDE725"/>
<circle cx="644.0" cy="411.0" r="6.7" fill="#FDE725"/>
<circle cx="650.0" cy="415.0" r="6.7" fill="#FDE725"/>
<circle cx="645.0" cy="416.0" r="6.7" fill="#FDE725"/>
<circle cx="669.0" cy="409.0" r="6.7" fill="#FDE725"/>
<circle cx="678.0" cy="401.0" r="6.7" fill="#FDE725"/>
<circle cx="603.0" cy="422.4" r="6.7" fill="#FDE725"/>
<circle cx="663.0" cy="424.0" r="6.7" fill="#FDE725"/>
<circle cx="675.0" cy="427.0" r="6.7" fill="#FDE725"/>
<circle cx="573.0" cy="429.0" r="6.7" fill="#FDE725"/>
<circle cx="572.0" cy="424.0" r="6.7" fill="#FDE725"/>
<circle cx="547.6" cy="423.0" r="6.7" fill="#FDE725"/>
<circle cx="557.0" cy="427.0" r="6.7" fill="#FDE725"/>
<circle cx="552.0" cy="435.0" r="6.7" fill="#FDE725"/>
<circle cx="560.6" cy="432.6" r="6.7" fill="#FDE725"/>
<circle cx="542.0" cy="433.6" r="6.7" fill="#FDE725"/>
<circle cx="587.0" cy="431.4" r="6.7" fill="#FDE725"/>
<circle cx="519.4" cy="423.0" r="6.7" fill="#FDE725"/>
<circle cx="509.2" cy="422.4" r="6.7" fill="#FDE725"/>
<circle cx="515.0" cy="432.0" r="6.7" fill="#FDE725"/>
<circle cx="503.0" cy="434.6" r="6.7" fill="#FDE725"/>
<circle cx="485.6" cy="425.6" r="6.7" fill="#FDE725"/>
<circle cx="476.6" cy="427.4" r="6.7" fill="#FDE725"/>
<circle cx="517.0" cy="448.0" r="6.7" fill="#FDE725"/>
<circle cx="514.8" cy="442.4" r="6.7" fill="#FDE725"/>
<circle cx="653.0" cy="428.0" r="6.7" fill="#FDE725"/>
<circle cx="648.6" cy="431.0" r="6.7" fill="#FDE725"/>
<circle cx="633.0" cy="435.0" r="6.7" fill="#FDE725"/>
<circle cx="622.0" cy="437.0" r="6.7" fill="#FDE725"/>
<circle cx="630.0" cy="434.6" r="6.7" fill="#FDE725"/>
<circle cx="616.0" cy="439.0" r="6.7" fill="#FDE725"/>
<circle cx="672.0" cy="451.0" r="6.7" fill="#FDE725"/>
<circle cx="598.0" cy="450.0" r="6.7" fill="#FDE725"/>
<circle cx="588.0" cy="447.4" r="6.7" fill="#FDE725"/>
<circle cx="607.0" cy="447.4" r="6.7" fill="#FDE725"/>
<circle cx="560.0" cy="445.0" r="6.7" fill="#FDE725"/>
<circle cx="565.0" cy="444.0" r="6.7" fill="#FDE725"/>
<circle cx="569.0" cy="449.0" r="6.7" fill="#FDE725"/>
<circle cx="577.0" cy="445.4" r="6.7" fill="#FDE725"/>
<circle cx="534.4" cy="447.6" r="6.7" fill="#FDE725"/>
<circle cx="547.0" cy="448.6" r="6.7" fill="#FDE725"/>
<circle cx="541.2" cy="453.6" r="6.7" fill="#FDE725"/>
<circle cx="633.0" cy="445.0" r="6.7" fill="#FDE725"/>
<circle cx="642.0" cy="446.0" r="6.7" fill="#FDE725"/>
<circle cx="644.4" cy="451.0" r="6.7" fill="#FDE725"/>
<circle cx="634.0" cy="453.0" r="6.7" fill="#FDE725"/>
<circle cx="636.0" cy="459.0" r="6.7" fill="#FDE725"/>
<circle cx="622.0" cy="455.0" r="6.7" fill="#FDE725"/>
<circle cx="631.0" cy="464.0" r="6.7" fill="#FDE725"/>
<circle cx="653.0" cy="461.0" r="6.7" fill="#FDE725"/>
<circle cx="655.0" cy="454.0" r="6.7" fill="#FDE725"/>
<circle cx="603.0" cy="459.0" r="6.7" fill="#FDE725"/>
<circle cx="610.0" cy="465.4" r="6.7" fill="#FDE725"/>
<circle cx="492.6" cy="459.0" r="6.7" fill="#FDE725"/>
<circle cx="491.4" cy="462.6" r="6.7" fill="#FDE725"/>
<circle cx="522.0" cy="457.0" r="6.7" fill="#FDE725"/>
<circle cx="529.0" cy="461.0" r="6.7" fill="#FDE725"/>
<circle cx="517.0" cy="463.0" r="6.7" fill="#FDE725"/>
<circle cx="524.6" cy="463.0" r="6.7" fill="#FDE725"/>
<circle cx="516.0" cy="470.0" r="6.7" fill="#FDE725"/>
<circle cx="526.0" cy="474.0" r="6.7" fill="#FDE725"/>
<circle cx="522.0" cy="473.0" r="6.7" fill="#FDE725"/>
<circle cx="546.0" cy="466.0" r="6.7" fill="#FDE725"/>
<circle cx="540.0" cy="470.0" r="6.7" fill="#FDE725"/>
<circle cx="592.6" cy="466.0" r="6.7" fill="#FDE725"/>
<circle cx="588.0" cy="472.0" r="6.7" fill="#FDE725"/>
<circle cx="602.0" cy="473.0" r="6.7" fill="#FDE725"/>
<circle cx="608.0" cy="470.0" r="6.7" fill="#FDE725"/>
<circle cx="607.0" cy="477.0" r="6.7" fill="#FDE725"/>
<circle cx="655.0" cy="471.0" r="6.7" fill="#FDE725"/>
<circle cx="663.0" cy="474.0" r="6.7" fill="#FDE725"/>
<circle cx="662.0" cy="470.6" r="6.7" fill="#FDE725"/>
<circle cx="674.0" cy="468.0" r="6.7" fill="#FDE725"/>
<circle cx="482.0" cy="474.4" r="6.7" fill="#FDE725"/>
<circle cx="563.4" cy="473.4" r="6.7" fill="#FDE725"/>
<circle cx="580.0" cy="483.0" r="6.7" fill="#FDE725"/>
<circle cx="568.0" cy="484.0" r="6.7" fill="#FDE725"/>
<circle cx="575.6" cy="477.6" r="6.7" fill="#FDE725"/>
<circle cx="535.6" cy="479.4" r="6.7" fill="#FDE725"/>
<circle cx="549.0" cy="477.0" r="6.7" fill="#FDE725"/>
<circle cx="552.4" cy="480.4" r="6.7" fill="#FDE725"/>
<circle cx="503.0" cy="477.0" r="6.7" fill="#FDE725"/>
<circle cx="499.4" cy="480.6" r="6.7" fill="#FDE725"/>
<circle cx="504.0" cy="490.0" r="6.7" fill="#FDE725"/>
<circle cx="515.0" cy="491.0" r="6.7" fill="#FDE725"/>
<circle cx="512.4" cy="485.0" r="6.7" fill="#FDE725"/>
<circle cx="492.0" cy="494.0" r="6.7" fill="#FDE725"/>
<circle cx="488.6" cy="488.4" r="6.7" fill="#FDE725"/>
<circle cx="477.4" cy="493.4" r="6.7" fill="#FDE725"/>
<circle cx="546.0" cy="489.0" r="6.7" fill="#FDE725"/>
<circle cx="555.6" cy="491.0" r="6.7" fill="#FDE725"/>
<circle cx="600.6" cy="483.6" r="6.7" fill="#FDE725"/>
<circle cx="615.0" cy="482.4" r="6.7" fill="#FDE725"/>
<circle cx="624.0" cy="485.0" r="6.7" fill="#FDE725"/>
<circle cx="629.0" cy="488.6" r="6.7" fill="#FDE725"/>
<circle cx="636.0" cy="479.0" r="6.7" fill="#FDE725"/>
<circle cx="639.0" cy="487.4" r="6.7" fill="#FDE725"/>
<circle cx="519.6" cy="507.0" r="6.7" fill="#FDE725"/>
<circle cx="510.4" cy="501.4" r="6.7" fill="#FDE725"/>
<circle cx="522.0" cy="498.6" r="6.7" fill="#FDE725"/>
<circle cx="575.0" cy="497.0" r="6.7" fill="#FDE725"/>
<circle cx="585.0" cy="500.6" r="6.7" fill="#FDE725"/>
<circle cx="601.4" cy="501.0" r="6.7" fill="#FDE725"/>
<circle cx="634.0" cy="500.6" r="6.7" fill="#FDE725"/>
<circle cx="616.4" cy="508.4" r="6.7" fill="#FDE725"/>
<circle cx="658.0" cy="504.0" r="6.7" fill="#FDE725"/>
<circle cx="671.0" cy="502.0" r="6.7" fill="#FDE725"/>
<circle cx="651.0" cy="512.0" r="6.7" fill="#FDE725"/>
<circle cx="654.0" cy="508.0" r="6.7" fill="#FDE725"/>
<circle cx="666.0" cy="512.0" r="6.7" fill="#FDE725"/>
<circle cx="592.0" cy="513.4" r="6.7" fill="#FDE725"/>
<circle cx="588.4" cy="522.6" r="6.7" fill="#FDE725"/>
<circle cx="489.4" cy="513.6" r="6.7" fill="#FDE725"/>
<circle cx="498.6" cy="517.4" r="6.7" fill="#FDE725"/>
<circle cx="511.0" cy="521.0" r="6.7" fill="#FDE725"/>
<circle cx="528.0" cy="521.4" r="6.7" fill="#FDE725"/>
<circle cx="634.4" cy="518.0" r="6.7" fill="#FDE725"/>
<circle cx="611.6" cy="523.0" r="6.7" fill="#FDE725"/>
<circle cx="664.0" cy="521.0" r="6.7" fill="#FDE725"/>
<circle cx="927.2" cy="410.4" r="6.7" fill="#440154"/>
<circle cx="944.0" cy="487.0" r="6.7" fill="#440154"/>
<circle cx="817.2" cy="400.0" r="6.7" fill="#31688E"/>
<circle cx="866.6" cy="408.4" r="6.7" fill="#31688E"/>
<circle cx="864.8" cy="436.0" r="6.7" fill="#31688E"/>
<circle cx="828.4" cy="465.2" r="6.7" fill="#31688E"/>
<circle cx="819.6" cy="464.4" r="6.7" fill="#31688E"/>
<circle cx="795.8" cy="486.6" r="6.7" fill="#31688E"/>
<circle cx="793.0" cy="509.0" r="6.7" fill="#31688E"/>
<circle cx="725.6" cy="368.4" r="6.7" fill="#35B779"/>
<circle cx="719.2" cy="382.2" r="6.7" fill="#35B779"/>
<circle cx="740.8" cy="393.0" r="6.7" fill="#35B779"/>
<circle cx="716.6" cy="404.4" r="6.7" fill="#35B779"/>
<circle cx="758.8" cy="407.2" r="6.7" fill="#35B779"/>
<circle cx="760.0" cy="365.0" r="6.7" fill="#35B779"/>
<circle cx="743.4" cy="373.6" r="6.7" fill="#35B779"/>
<circle cx="754.2" cy="372.0" r="6.7" fill="#35B779"/>
<circle cx="769.4" cy="370.4" r="6.7" fill="#35B779"/>
<circle cx="788.4" cy="410.6" r="6.7" fill="#35B779"/>
<circle cx="797.6" cy="411.0" r="6.7" fill="#35B779"/>
<circle cx="802.0" cy="420.0" r="6.7" fill="#35B779"/>
<circle cx="815.6" cy="416.2" r="6.7" fill="#35B779"/>
<circle cx="810.6" cy="426.4" r="6.7" fill="#35B779"/>
<circle cx="773.4" cy="422.2" r="6.7" fill="#35B779"/>
<circle cx="760.0" cy="439.0" r="6.7" fill="#35B779"/>
<circle cx="761.0" cy="435.0" r="6.7" fill="#35B779"/>
<circle cx="771.0" cy="440.0" r="6.7" fill="#35B779"/>
<circle cx="778.0" cy="449.0" r="6.7" fill="#35B779"/>
<circle cx="773.4" cy="447.0" r="6.7" fill="#35B779"/>
<circle cx="770.0" cy="433.6" r="6.7" fill="#35B779"/>
<circle cx="750.8" cy="442.2" r="6.7" fill="#35B779"/>
<circle cx="757.6" cy="455.4" r="6.7" fill="#35B779"/>
<circle cx="801.6" cy="451.6" r="6.7" fill="#35B779"/>
<circle cx="754.6" cy="480.0" r="6.7" fill="#35B779"/>
<circle cx="747.0" cy="476.0" r="6.7" fill="#35B779"/>
<circle cx="740.6" cy="511.8" r="6.7" fill="#35B779"/>
<circle cx="751.2" cy="511.6" r="6.7" fill="#35B779"/>
<circle cx="698.6" cy="521.0" r="6.7" fill="#35B779"/>
<circle cx="693.4" cy="399.0" r="6.7" fill="#FDE725"/>
<circle cx="677.0" cy="408.0" r="6.7" fill="#FDE725"/>
<circle cx="709.6" cy="417.0" r="6.7" fill="#FDE725"/>
<circle cx="730.4" cy="427.0" r="6.7" fill="#FDE725"/>
<circle cx="694.0" cy="425.0" r="6.7" fill="#FDE725"/>
<circle cx="704.0" cy="431.0" r="6.7" fill="#FDE725"/>
<circle cx="712.4" cy="446.6" r="6.7" fill="#FDE725"/>
<circle cx="723.0" cy="455.0" r="6.7" fill="#FDE725"/>
<circle cx="712.6" cy="458.0" r="6.7" fill="#FDE725"/>
<circle cx="711.4" cy="454.4" r="6.7" fill="#FDE725"/>
<circle cx="736.2" cy="452.2" r="6.7" fill="#FDE725"/>
<circle cx="678.0" cy="450.0" r="6.7" fill="#FDE725"/>
<circle cx="692.0" cy="459.0" r="6.7" fill="#FDE725"/>
<circle cx="686.4" cy="461.0" r="6.7" fill="#FDE725"/>
<circle cx="696.4" cy="462.0" r="6.7" fill="#FDE725"/>
<circle cx="703.6" cy="471.0" r="6.7" fill="#FDE725"/>
<circle cx="693.6" cy="475.6" r="6.7" fill="#FDE725"/>
<circle cx="728.0" cy="470.0" r="6.7" fill="#FDE725"/>
<circle cx="727.6" cy="478.0" r="6.7" fill="#FDE725"/>
<circle cx="734.0" cy="475.0" r="6.7" fill="#FDE725"/>
<circle cx="676.4" cy="486.0" r="6.7" fill="#FDE725"/>
<circle cx="702.0" cy="497.0" r="6.7" fill="#FDE725"/>
<circle cx="702.0" cy="492.0" r="6.7" fill="#FDE725"/>
<circle cx="709.0" cy="489.6" r="6.7" fill="#FDE725"/>
<circle cx="688.6" cy="506.4" r="6.7" fill="#FDE725"/>
<circle cx="483.6" cy="644.8" r="6.7" fill="#440154"/>
<circle cx="435.6" cy="672.2" r="6.7" fill="#440154"/>
<circle cx="665.2" cy="683.6" r="6.7" fill="#440154"/>
<circle cx="407.0" cy="526.4" r="6.7" fill="#31688E"/>
<circle cx="438.4" cy="559.4" r="6.7" fill="#31688E"/>
<circle cx="498.0" cy="564.4" r="6.7" fill="#35B779"/>
<circle cx="496.0" cy="573.0" r="6.7" fill="#31688E"/>
<circle cx="437.2" cy="605.4" r="6.7" fill="#31688E"/>
<circle cx="440.2" cy="594.4" r="6.7" fill="#31688E"/>
<circle cx="522.4" cy="610.2" r="6.7" fill="#31688E"/>
<circle cx="534.4" cy="614.6" r="6.7" fill="#31688E"/>
<circle cx="586.0" cy="607.4" r="6.7" fill="#31688E"/>
<circle cx="579.2" cy="616.0" r="6.7" fill="#31688E"/>
<circle cx="628.4" cy="612.8" r="6.7" fill="#31688E"/>
<circle cx="647.8" cy="591.2" r="6.7" fill="#31688E"/>
<circle cx="667.8" cy="616.4" r="6.7" fill="#31688E"/>
<circle cx="566.4" cy="645.6" r="6.7" fill="#31688E"/>
<circle cx="571.2" cy="636.8" r="6.7" fill="#31688E"/>
<circle cx="575.4" cy="655.8" r="6.7" fill="#31688E"/>
<circle cx="616.4" cy="639.2" r="6.7" fill="#31688E"/>
<circle cx="452.0" cy="527.4" r="6.7" fill="#35B779"/>
<circle cx="417.0" cy="537.6" r="6.7" fill="#35B779"/>
<circle cx="422.0" cy="538.6" r="6.7" fill="#35B779"/>
<circle cx="450.4" cy="552.0" r="6.7" fill="#35B779"/>
<circle cx="445.6" cy="544.0" r="6.7" fill="#35B779"/>
<circle cx="520.6" cy="572.6" r="6.7" fill="#35B779"/>
<circle cx="499.4" cy="528.4" r="6.7" fill="#35B779"/>
<circle cx="505.0" cy="527.6" r="6.7" fill="#35B779"/>
<circle cx="533.0" cy="544.6" r="6.7" fill="#35B779"/>
<circle cx="536.8" cy="545.0" r="6.7" fill="#35B779"/>
<circle cx="548.0" cy="525.6" r="6.7" fill="#35B779"/>
<circle cx="554.0" cy="530.6" r="6.7" fill="#35B779"/>
<circle cx="572.4" cy="530.6" r="6.7" fill="#35B779"/>
<circle cx="564.4" cy="542.2" r="6.7" fill="#35B779"/>
<circle cx="558.4" cy="560.2" r="6.7" fill="#35B779"/>
<circle cx="540.0" cy="571.6" r="6.7" fill="#35B779"/>
<circle cx="549.6" cy="568.6" r="6.7" fill="#35B779"/>
<circle cx="564.4" cy="591.6" r="6.7" fill="#35B779"/>
<circle cx="566.0" cy="586.0" r="6.7" fill="#35B779"/>
<circle cx="594.0" cy="588.6" r="6.7" fill="#35B779"/>
<circle cx="612.6" cy="542.6" r="6.7" fill="#35B779"/>
<circle cx="597.0" cy="543.6" r="6.7" fill="#35B779"/>
<circle cx="651.4" cy="552.6" r="6.7" fill="#35B779"/>
<circle cx="630.6" cy="568.6" r="6.7" fill="#35B779"/>
<circle cx="629.0" cy="581.4" r="6.7" fill="#35B779"/>
<circle cx="652.4" cy="575.2" r="6.7" fill="#35B779"/>
<circle cx="602.0" cy="529.0" r="6.7" fill="#FDE725"/>
<circle cx="639.0" cy="533.0" r="6.7" fill="#FDE725"/>
<circle cx="643.0" cy="527.0" r="6.7" fill="#FDE725"/>
<circle cx="663.0" cy="529.6" r="6.7" fill="#FDE725"/>
<circle cx="671.0" cy="528.4" r="6.7" fill="#FDE725"/>
<circle cx="787.6" cy="656.2" r="6.7" fill="#440154"/>
<circle cx="751.0" cy="533.0" r="6.7" fill="#31688E"/>
<circle cx="786.8" cy="531.6" r="6.7" fill="#31688E"/>
<circle cx="744.0" cy="565.0" r="6.7" fill="#31688E"/>
<circle cx="739.6" cy="555.0" r="6.7" fill="#31688E"/>
<circle cx="769.4" cy="554.0" r="6.7" fill="#31688E"/>
<circle cx="687.4" cy="572.8" r="6.7" fill="#31688E"/>
<circle cx="783.4" cy="577.8" r="6.7" fill="#31688E"/>
<circle cx="737.6" cy="585.0" r="6.7" fill="#31688E"/>
<circle cx="735.2" cy="586.6" r="6.7" fill="#31688E"/>
<circle cx="769.6" cy="589.8" r="6.7" fill="#31688E"/>
<circle cx="809.2" cy="588.6" r="6.7" fill="#31688E"/>
<circle cx="740.8" cy="628.6" r="6.7" fill="#31688E"/>
<circle cx="793.2" cy="634.4" r="6.7" fill="#31688E"/>
<circle cx="699.0" cy="529.6" r="6.7" fill="#35B779"/>
<circle cx="695.6" cy="539.6" r="6.7" fill="#35B779"/>
<circle cx="685.0" cy="537.6" r="6.7" fill="#35B779"/>
<circle cx="703.6" cy="562.0" r="6.7" fill="#35B779"/>
<circle cx="480.0" cy="508.6" r="6.7" fill="#35B779"/>
<circle cx="480.4" cy="403.6" r="6.7" fill="#FDE725"/>
<circle cx="756.4" cy="358.0" r="6.7" fill="#35B779"/>
<circle cx="685.0" cy="362.0" r="6.7" fill="#FDE725"/>
<circle cx="636.0" cy="414.4" r="6.7" fill="#FDE725"/>
<circle cx="671.0" cy="414.6" r="6.7" fill="#FDE725"/>
<circle cx="665.4" cy="433.0" r="6.7" fill="#FDE725"/>
<circle cx="669.0" cy="444.0" r="6.7" fill="#FDE725"/>
<circle cx="399.5" cy="441.0" r="6.7" fill="#31688E"/>
<circle cx="555.0" cy="521.0" r="6.7" fill="#FDE725"/>
<circle cx="603.6" cy="538.4" r="6.7" fill="#35B779"/>
<circle cx="599.6" cy="549.6" r="6.7" fill="#35B779"/>
</g>
<g stroke="#333" stroke-width="2.9">
<line x1="391.1" x2="391.1" y1="781.8" y2="789.6999999999999"/>
<line y1="629.7" y2="629.7" x1="317.5" x2="324.8"/>
<line x1="600.9" x2="600.9" y1="781.8" y2="789.6999999999999"/>
<line y1="420.0" y2="420.0" x1="317.5" x2="324.8"/>
<line x1="810.7" x2="810.7" y1="781.8" y2="789.6999999999999"/>
<line y1="210.3" y2="210.3" x1="317.5" x2="324.8"/>
</g>
<rect x="1017.9" y="326.4" width="46" height="184.6" fill="#F2F2F2"/>
<line x1="1022.4" x2="1059.3" y1="349.8" y2="349.8" stroke="#440154" stroke-width="5.7"/>
<circle cx="1040.8" cy="349.8" r="6.7" fill="#440154" stroke="#000" stroke-width="1.6"/>
<text x="1078.0" y="357.8" class="lt" textLength="52" lengthAdjust="spacingAndGlyphs">99%</text>
<line x1="1022.4" x2="1059.3" y1="395.9" y2="395.9" stroke="#31688E" stroke-width="5.7"/>
<circle cx="1040.8" cy="395.9" r="6.7" fill="#31688E" stroke="#000" stroke-width="1.6"/>
<text x="1078.0" y="403.9" class="lt" textLength="52" lengthAdjust="spacingAndGlyphs">95%</text>
<line x1="1022.4" x2="1059.3" y1="442.0" y2="442.0" stroke="#35B779" stroke-width="5.7"/>
<circle cx="1040.8" cy="442.0" r="6.7" fill="#35B779" stroke="#000" stroke-width="1.6"/>
<text x="1078.0" y="450.0" class="lt" textLength="52" lengthAdjust="spacingAndGlyphs">80%</text>
<line x1="1022.4" x2="1059.3" y1="488.1" y2="488.1" stroke="#FDE725" stroke-width="5.7"/>
<circle cx="1040.8" cy="488.1" r="6.7" fill="#FDE725" stroke="#000" stroke-width="1.6"/>
<text x="1078.0" y="496.1" class="lt" textLength="52" lengthAdjust="spacingAndGlyphs">50%</text>
<text x="1018.6" y="308.8" class="ttl" textLength="80" lengthAdjust="spacingAndGlyphs">probs</text>
<text x="391.1" y="811.9" class="at" text-anchor="middle">-2</text>
<text x="310.3" y="638.1" class="at" text-anchor="end">-2</text>
<text x="600.9" y="811.9" class="at" text-anchor="middle">0</text>
<text x="310.3" y="428.4" class="at" text-anchor="end">0</text>
<text x="810.7" y="811.9" class="at" text-anchor="middle">2</text>
<text x="310.3" y="218.7" class="at" text-anchor="end">2</text>
<text x="649.5" y="845.9" class="ttl" text-anchor="middle">x</text>
<text transform="translate(276,398.4) rotate(-90)" class="ttl" text-anchor="middle">y</text>
</svg>
</body></html>
